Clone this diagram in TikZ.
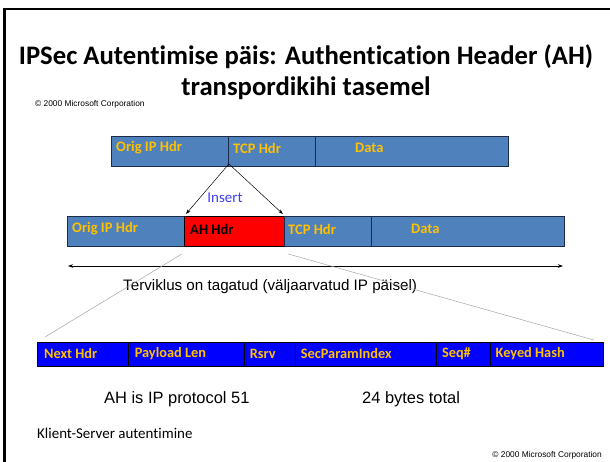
\documentclass[tikz,border=0pt]{standalone}
\usepackage{fontspec}
\setmainfont{Carlito}[Ligatures=NoCommon, Contextuals=NoAlternate]
\newfontfamily\arialfont{Liberation Sans}
\usetikzlibrary{arrows.meta}
\definecolor{pktblue}{HTML}{4F81BD}
\definecolor{pktgold}{HTML}{FFC000}
\definecolor{pktedge}{HTML}{1C2B48}
\definecolor{ahred}{HTML}{FF0000}
\definecolor{barblue}{HTML}{0000FF}
\definecolor{insertblue}{HTML}{3C3CFF}
\definecolor{guidegray}{HTML}{A6A6A6}
\tikzset{
  field/.style={draw=pktedge, line width=0.9bp, fill=pktblue, minimum height=30bp,
    inner sep=0pt, anchor=north west},
  ahfield/.style={field, fill=ahred, draw=black},
  barfield/.style={draw=black, line width=0.8bp, fill=barblue, minimum height=24bp,
    inner sep=0pt, anchor=north west},
  fieldtext/.style={anchor=west, inner sep=0pt, text=pktgold, font=\bfseries\fontsize{14.6}{18}\selectfont},
  bartext/.style={anchor=west, inner sep=0pt, text=pktgold, font=\bfseries\fontsize{14.4}{17}\selectfont},
  note/.style={inner sep=0pt, font=\arialfont\fontsize{16.5}{20}\selectfont},
  copyr/.style={inner sep=0pt, font=\arialfont\fontsize{8.4}{10}\selectfont},
  tip/.style={-{Stealth[length=5bp,width=3.5bp]}, line width=0.5bp},
}
\begin{document}
\begin{tikzpicture}[x=1bp,y=-1bp]
\useasboundingbox (0,0) rectangle (610,462);
\fill[white] (0,0) rectangle (610,462);

% slide frame
\draw[line width=2.4bp] (4.5,462) -- (4.5,9) -- (610,9);

% title
\node[font=\bfseries\fontsize{26.8}{31}\selectfont, align=center, inner sep=0pt] (title) at (306,72)
  {IPSec Autentimise päis: Authentication Header (AH)\\transpordikihi tasemel};
\node[copyr, anchor=west] (crtop) at (35,104) {© 2000 Microsoft Corporation};

% original packet
\node[field, minimum width=117bp] (t1) at (111,136) {};
\node[field, minimum width=87bp]  (t2) at (228,136) {};
\node[field, minimum width=193bp] (t3) at (315,136) {};
\node[fieldtext] (t1l) at ([shift={(5,12)}]t1.north west) {Orig IP Hdr};
\node[fieldtext] (t2l) at ([shift={(5,12)}]t2.north west) {TCP Hdr};
\node[fieldtext] (t3l) at ([shift={(40,12)}]t3.north west) {Data};

% packet with AH inserted
\node[field, minimum width=117bp] (r1) at (67,216) {};
\node[ahfield, minimum width=100bp] (r2) at (184,216) {};
\node[field, minimum width=87bp]  (r3) at (284,216) {};
\node[field, minimum width=193bp] (r4) at (371,216) {};
\node[fieldtext] (r1l) at ([shift={(5,13)}]r1.north west) {Orig IP Hdr};
\node[fieldtext, text=black] (r2l) at ([shift={(6,13)}]r2.north west) {AH Hdr};
\node[fieldtext] (r3l) at ([shift={(4,13)}]r3.north west) {TCP Hdr};
\node[fieldtext] (r4l) at ([shift={(40,13)}]r4.north west) {Data};

% insertion arrows
\coordinate (split) at ([yshift=3]t1.south east);
\draw[tip] (split) -- ([shift={(2,-2)}]r2.north west);
\draw[tip] (split) -- ([shift={(-2,-2)}]r2.north east);
\node[text=insertblue, font=\fontsize{15}{18}\selectfont, inner sep=0pt] (ins) at (225,198) {Insert};

% integrity span
\coordinate (spanL) at (68,266);
\coordinate (spanR) at (563,266);
\draw[{Stealth[length=5bp,width=3.5bp]}-{Stealth[length=5bp,width=3.5bp]}, line width=0.6bp] (spanL) -- (spanR);
\node[note, font=\arialfont\fontsize{15.25}{18}\selectfont, anchor=west] (integ) at (123,287)
  {Terviklus on tagatud (väljaarvatud IP päisel)};

% AH header layout
\node[barfield, minimum width=90.6bp]  (b1) at (37,342) {};
\node[barfield, minimum width=116bp]   (b2) at (127.6,342) {};
\node[barfield, minimum width=51bp]    (b3) at (243.6,342) {};
\node[barfield, minimum width=141.2bp] (b4) at (294.6,342) {};
\node[barfield, minimum width=53.7bp]  (b5) at (435.8,342) {};
\node[barfield, minimum width=113.5bp] (b6) at (489.5,342) {};
\node[bartext] (b1l) at ([shift={(7,12)}]b1.north west) {Next Hdr};
\node[bartext] (b2l) at ([shift={(7,12)}]b2.north west) {Payload Len};
\node[bartext] (b3l) at ([shift={(6,12)}]b3.north west) {Rsrv};
\node[bartext] (b4l) at ([shift={(6,12)}]b4.north west) {SecParamIndex};
\node[bartext] (b5l) at ([shift={(6,12)}]b5.north west) {Seq\#};
\node[bartext] (b6l) at ([shift={(6,12)}]b6.north west) {Keyed Hash};

% zoom guides from the AH header to its layout
\draw[guidegray, line width=0.5bp] ([shift={(-2,7)}]r2.south west) -- ([shift={(8,-5)}]b1.north west);
\draw[guidegray, line width=0.5bp] ([shift={(3,7)}]r2.south east) -- ([shift={(-10,-2)}]b6.north east);

% notes
\node[note, anchor=west] (proto) at (104,399) {AH is IP protocol 51};
\node[note, anchor=west] (total) at (362,399) {24 bytes total};
\node[anchor=west, inner sep=0pt, font=\fontsize{15}{18}\selectfont] (client) at (37,433) {Klient-Server autentimine};
\node[copyr, anchor=east] (crbot) at (602,455) {© 2000 Microsoft Corporation};
\end{tikzpicture}
\end{document}
